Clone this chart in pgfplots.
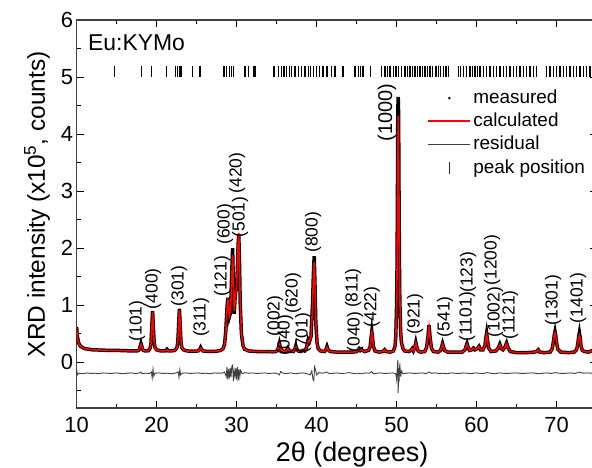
\documentclass[border=0pt]{standalone}
\usepackage{pgfplots}
\pgfplotsset{compat=1.18}
\usepackage{pgfplotstable}
\usepackage{fontspec}
\setmainfont{Liberation Sans}
\tikzset{lab/.style={rotate=90, font=\fontsize{17.5}{20}\selectfont, inner sep=0pt}}
\pgfplotsset{
  measleg/.style={legend image code/.code={\path[draw=none,fill=none] (0bp,0bp) -- (42bp,0bp); \fill[black, draw=none] (21bp,0bp) circle (1.4bp);}},
  calcleg/.style={legend image code/.code={\fill[red, draw=none] (0bp,-0.9bp) rectangle (42bp,0.9bp);}},
  resleg/.style={legend image code/.code={\fill[black!75, draw=none] (0bp,-0.6bp) rectangle (42bp,0.6bp);}},
  peakleg/.style={legend image code/.code={\path[draw=none,fill=none] (0bp,0bp) -- (42bp,0bp); \fill[black!80, draw=none] (20.5bp,-6bp) rectangle (21.5bp,6bp);}},
}

\pgfplotstableread{
x obs calc
10.0 0.62 0.60
10.1 0.45 0.44
10.25 0.34 0.33
10.5 0.28 0.28
11.0 0.24 0.24
12.0 0.22 0.22
13.0 0.215 0.215
14.0 0.21 0.21
15.0 0.21 0.21
16.0 0.205 0.205
17.0 0.20 0.20
17.6 0.20 0.20
17.75 0.21 0.21
17.85 0.23 0.23
17.95 0.28 0.28
18.05 0.33 0.32
18.15 0.28 0.28
18.25 0.23 0.23
18.35 0.21 0.21
18.6 0.20 0.20
19.0 0.205 0.205
19.2 0.25 0.25
19.3 0.34 0.33
19.4 0.62 0.60
19.5 0.90 0.88
19.6 0.60 0.61
19.7 0.34 0.34
19.8 0.26 0.25
20.0 0.22 0.22
20.5 0.20 0.20
21.1 0.20 0.20
21.3 0.23 0.22
21.5 0.20 0.20
22.2 0.205 0.205
22.35 0.22 0.22
22.55 0.26 0.26
22.65 0.35 0.34
22.75 0.64 0.62
22.85 0.94 0.92
22.95 0.65 0.66
23.05 0.36 0.37
23.15 0.26 0.26
23.35 0.22 0.22
23.8 0.20 0.20
24.5 0.195 0.195
25.2 0.20 0.20
25.4 0.23 0.23
25.5 0.26 0.25
25.6 0.23 0.23
25.8 0.20 0.20
26.5 0.19 0.19
27.5 0.195 0.195
28.0 0.21 0.21
28.3 0.24 0.24
28.5 0.32 0.31
28.65 0.55 0.52
28.8 0.95 0.92
28.9 1.13 1.12
29.0 0.95 0.98
29.1 0.80 0.82
29.2 0.85 0.88
29.3 1.15 1.10
29.4 1.60 1.50
29.5 2.00 1.88
29.6 1.35 1.45
29.7 0.85 0.90
29.8 1.10 1.05
29.9 1.25 1.22
30.0 1.30 1.35
30.1 1.65 1.70
30.2 2.10 2.15
30.27 2.24 2.27
30.35 1.85 1.80
30.45 1.05 1.10
30.6 0.50 0.52
30.8 0.30 0.30
31.0 0.23 0.23
31.5 0.20 0.20
32.5 0.19 0.19
33.5 0.19 0.19
34.5 0.185 0.185
34.9 0.19 0.19
35.1 0.21 0.21
35.25 0.27 0.27
35.35 0.33 0.32
35.45 0.27 0.27
35.6 0.21 0.21
35.9 0.19 0.19
36.2 0.20 0.20
36.4 0.25 0.24
36.6 0.20 0.20
37.1 0.19 0.19
37.3 0.24 0.24
37.4 0.29 0.28
37.5 0.24 0.24
37.7 0.20 0.20
38.0 0.19 0.19
38.3 0.21 0.21
38.5 0.20 0.20
38.75 0.26 0.26
38.95 0.40 0.38
39.1 0.36 0.36
39.3 0.45 0.45
39.5 1.05 1.00
39.6 1.55 1.50
39.7 1.86 1.76
39.8 1.35 1.40
39.9 0.70 0.72
40.05 0.35 0.35
40.2 0.24 0.24
40.5 0.20 0.20
41.0 0.19 0.19
41.15 0.22 0.22
41.3 0.28 0.27
41.45 0.22 0.22
41.7 0.19 0.19
42.5 0.18 0.18
43.5 0.18 0.18
44.5 0.18 0.18
45.0 0.19 0.19
45.2 0.22 0.22
45.3 0.24 0.24
45.45 0.21 0.21
45.6 0.23 0.23
45.75 0.21 0.21
46.0 0.19 0.19
46.5 0.21 0.21
46.7 0.28 0.28
46.8 0.42 0.42
46.9 0.54 0.52
47.0 0.42 0.42
47.1 0.28 0.28
47.3 0.20 0.20
47.8 0.18 0.18
48.3 0.19 0.19
48.5 0.22 0.22
48.65 0.19 0.19
49.2 0.18 0.18
49.6 0.20 0.20
49.8 0.28 0.28
49.9 0.45 0.42
50.0 1.00 0.95
50.05 1.60 1.50
50.1 2.70 2.50
50.15 4.40 3.60
50.2 4.65 4.32
50.25 4.35 3.80
50.3 3.00 2.80
50.35 1.80 1.80
50.4 1.10 1.15
50.5 0.55 0.58
50.6 0.35 0.36
50.8 0.24 0.24
51.0 0.20 0.20
51.5 0.19 0.19
51.8 0.21 0.21
51.95 0.24 0.24
52.1 0.20 0.20
52.25 0.25 0.25
52.4 0.35 0.34
52.55 0.25 0.25
52.7 0.20 0.20
53.0 0.18 0.18
53.5 0.19 0.19
53.75 0.26 0.26
53.9 0.42 0.42
54.05 0.65 0.62
54.2 0.42 0.42
54.35 0.25 0.25
54.6 0.19 0.19
55.2 0.18 0.18
55.5 0.21 0.21
55.65 0.28 0.28
55.75 0.33 0.32
55.85 0.28 0.28
56.0 0.21 0.21
56.4 0.18 0.18
57.5 0.18 0.18
58.2 0.18 0.18
58.55 0.22 0.22
58.7 0.29 0.29
58.8 0.33 0.32
58.9 0.28 0.28
59.1 0.21 0.21
59.4 0.22 0.22
59.6 0.25 0.25
59.8 0.22 0.22
60.1 0.24 0.24
60.3 0.28 0.28
60.5 0.22 0.22
60.8 0.22 0.22
61.05 0.30 0.30
61.15 0.42 0.42
61.25 0.51 0.49
61.35 0.40 0.40
61.5 0.25 0.25
61.8 0.19 0.19
62.4 0.20 0.20
62.7 0.25 0.25
62.9 0.32 0.31
63.1 0.24 0.24
63.3 0.22 0.22
63.55 0.27 0.27
63.75 0.34 0.33
63.95 0.25 0.25
64.2 0.19 0.19
65.0 0.17 0.17
66.0 0.17 0.17
67.0 0.175 0.175
67.5 0.19 0.19
67.7 0.22 0.22
67.9 0.18 0.18
68.5 0.17 0.17
69.2 0.18 0.18
69.45 0.24 0.24
69.6 0.36 0.36
69.7 0.47 0.47
69.8 0.54 0.52
69.9 0.46 0.46
70.0 0.34 0.34
70.15 0.23 0.23
70.5 0.18 0.18
71.5 0.17 0.17
72.2 0.18 0.18
72.5 0.22 0.22
72.65 0.32 0.32
72.75 0.44 0.43
72.85 0.52 0.47
72.95 0.43 0.42
73.05 0.30 0.30
73.2 0.21 0.21
73.5 0.19 0.19
74.0 0.18 0.18
74.5 0.21 0.21
75.0 0.24 0.24
}\xrd

\pgfplotstableread{
x r
10.0 -0.12
10.1 -0.22
10.3 -0.19
10.8 -0.20
11.3 -0.185
11.8 -0.195
12.3 -0.19
12.8 -0.20
13.3 -0.185
13.8 -0.19
14.3 -0.195
14.8 -0.185
15.3 -0.19
15.8 -0.20
16.3 -0.19
16.8 -0.185
17.3 -0.195
17.8 -0.19
18.05 -0.17
18.2 -0.20
18.6 -0.19
19.1 -0.195
19.35 -0.17
19.45 -0.27
19.55 -0.12
19.65 -0.24
19.8 -0.19
20.3 -0.185
20.8 -0.195
21.3 -0.19
21.8 -0.20
22.3 -0.19
22.7 -0.17
22.8 -0.26
22.9 -0.13
23.0 -0.22
23.2 -0.19
23.7 -0.185
24.2 -0.195
24.7 -0.19
25.2 -0.185
25.7 -0.195
26.2 -0.19
26.7 -0.20
27.2 -0.185
27.7 -0.19
28.2 -0.19
28.5 -0.17
28.7 -0.25
28.8 -0.08
28.9 -0.30
29.0 -0.12
29.1 -0.28
29.2 -0.10
29.3 -0.26
29.4 -0.07
29.5 -0.05
29.6 -0.33
29.7 -0.15
29.8 -0.24
29.9 -0.10
30.0 -0.30
30.1 -0.08
30.2 -0.32
30.3 -0.12
30.4 -0.25
30.5 -0.14
30.7 -0.20
31.0 -0.18
31.5 -0.19
32.0 -0.185
32.5 -0.195
33.0 -0.19
33.5 -0.185
34.0 -0.195
34.5 -0.19
35.0 -0.19
35.35 -0.22
35.5 -0.16
35.8 -0.19
36.3 -0.195
36.8 -0.185
37.4 -0.20
37.8 -0.19
38.3 -0.185
38.8 -0.20
39.2 -0.22
39.4 -0.15
39.55 -0.30
39.65 -0.32
39.75 -0.08
39.85 -0.12
40.0 -0.22
40.3 -0.18
40.8 -0.19
41.3 -0.17
41.6 -0.20
42.1 -0.19
42.6 -0.185
43.1 -0.195
43.6 -0.19
44.1 -0.18
44.6 -0.195
45.1 -0.19
45.6 -0.20
46.1 -0.185
46.6 -0.19
46.9 -0.16
47.1 -0.20
47.5 -0.19
48.0 -0.185
48.5 -0.195
49.0 -0.19
49.5 -0.185
49.9 -0.20
50.0 -0.30
50.1 -0.08
50.15 0.04
50.2 -0.54
50.25 -0.10
50.3 -0.35
50.4 -0.02
50.5 -0.25
50.6 -0.15
50.8 -0.20
51.2 -0.19
51.7 -0.185
52.2 -0.195
52.7 -0.19
53.2 -0.185
53.7 -0.20
54.05 -0.17
54.3 -0.19
54.8 -0.185
55.3 -0.195
55.8 -0.19
56.3 -0.20
56.8 -0.185
57.3 -0.19
57.8 -0.195
58.3 -0.185
58.8 -0.19
59.3 -0.20
59.8 -0.185
60.3 -0.19
60.8 -0.195
61.3 -0.18
61.8 -0.19
62.3 -0.20
62.8 -0.185
63.3 -0.19
63.8 -0.195
64.3 -0.19
64.8 -0.185
65.3 -0.19
65.8 -0.195
66.3 -0.19
66.8 -0.185
67.3 -0.19
67.8 -0.20
68.3 -0.19
68.8 -0.185
69.3 -0.195
69.8 -0.18
70.3 -0.19
70.8 -0.195
71.3 -0.19
71.8 -0.185
72.3 -0.195
72.85 -0.17
73.3 -0.19
73.8 -0.185
74.3 -0.19
75.0 -0.195
}\resid

\pgfplotstableread{
x y
14.71 5.1
18.14 5.1
19.39 5.1
21.26 5.1
22.39 5.1
22.64 5.1
22.93 5.1
23.14 5.1
24.46 5.1
25.43 5.1
28.43 5.1
28.76 5.1
29.09 5.1
29.39 5.1
29.59 5.1
31.05 5.1
31.46 5.1
32.09 5.1
32.30 5.1
34.68 5.1
35.21 5.1
35.64 5.1
35.93 5.1
36.26 5.1
36.59 5.1
36.90 5.1
37.30 5.1
37.71 5.1
38.10 5.1
38.55 5.1
38.97 5.1
39.26 5.1
39.60 5.1
40.00 5.1
40.40 5.1
40.80 5.1
41.30 5.1
41.90 5.1
42.30 5.1
43.30 5.1
44.80 5.1
45.20 5.1
45.50 5.1
45.80 5.1
46.70 5.1
48.14 5.1
48.55 5.1
48.84 5.1
49.18 5.1
49.59 5.1
49.93 5.1
50.21 5.1
50.64 5.1
51.05 5.1
51.34 5.1
51.68 5.1
52.01 5.1
52.30 5.1
52.59 5.1
52.93 5.1
53.26 5.1
53.55 5.1
53.84 5.1
54.18 5.1
54.51 5.1
54.93 5.1
55.21 5.1
55.51 5.1
55.84 5.1
56.18 5.1
56.46 5.1
57.71 5.1
58.01 5.1
58.34 5.1
58.76 5.1
59.18 5.1
59.51 5.1
59.80 5.1
60.09 5.1
60.43 5.1
60.84 5.1
61.26 5.1
61.68 5.1
62.09 5.1
62.51 5.1
62.93 5.1
63.34 5.1
63.76 5.1
64.18 5.1
64.59 5.1
65.01 5.1
65.43 5.1
65.84 5.1
66.26 5.1
66.68 5.1
67.09 5.1
67.51 5.1
68.76 5.1
69.18 5.1
69.59 5.1
70.01 5.1
70.43 5.1
70.84 5.1
71.26 5.1
71.68 5.1
72.09 5.1
72.51 5.1
72.93 5.1
73.34 5.1
73.76 5.1
74.18 5.1
}\peaks

\begin{document}
\begin{tikzpicture}
\useasboundingbox (-76.6bp,-60bp) rectangle (515.4bp,408bp);
\begin{axis}[
  at={(0bp,0bp)}, anchor=south west,
  scale only axis, width=520bp, height=388bp,
  xmin=10, xmax=75, ymin=-0.8, ymax=6,
  xtick={10,20,...,70}, minor xtick={15,25,...,75},
  ytick={0,1,...,6}, minor ytick={-0.5,0.5,1.5,2.5,3.5,4.5,5.5},
  tick align=inside,
  major tick length=7bp, minor tick length=4bp,
  every tick/.append style={black, line width=0.9bp},
  axis line style={line width=1.2bp, black!75},
  /pgf/number format/assume math mode=true,
  tick label style={font=\fontsize{22}{26}\selectfont},
  xticklabel style={yshift=-6bp},
  xlabel={2θ (degrees)},
  xlabel style={at={(axis description cs:0.53,-0.137)}, anchor=base, font=\fontsize{27}{30}\selectfont},
  ylabel={XRD intensity (x10\textsuperscript{5}, counts)},
  ylabel style={at={(axis description cs:-0.0608,0.525)}, anchor=base, font=\fontsize{24.5}{30}\selectfont},
  legend cell align=left,
  legend style={draw=none, fill=none, at={(axis description cs:0.676,0.825)}, anchor=north west,
    inner sep=0pt, row sep=3.3bp, column sep=2bp, font=\fontsize{19}{22}\selectfont,
    nodes={text height=14bp, text depth=4bp, inner sep=1bp}},
]
\addplot[black, line width=3.5bp, forget plot] table[x=x, y=obs] {\xrd};
\addplot[red, line width=1.6bp, forget plot] table[x=x, y=calc] {\xrd};
\addplot[black!75, line width=0.9bp, forget plot] table[x=x, y=r] {\resid};
\addplot[only marks, mark=|, mark size=5.5bp, mark options={black, line width=1.1bp}, forget plot]
  table[x=x, y=y] {\peaks};

\addlegendimage{measleg}
\addlegendentry{measured}
\addlegendimage{calcleg}
\addlegendentry{calculated}
\addlegendimage{resleg}
\addlegendentry{residual}
\addlegendimage{peakleg}
\addlegendentry{peak position}

\node[anchor=base west, font=\fontsize{23}{26}\selectfont] at (axis cs:11.0,5.47) {Eu:KYMo};

\node[lab] at (axis cs:17.55,0.725) {(101)};
\node[lab] at (axis cs:19.55,1.29) {(400)};
\node[lab] at (axis cs:22.8,1.34) {(301)};
\node[lab] at (axis cs:25.55,0.79) {(311)};
\node[lab] at (axis cs:28.18,1.51) {(121)};
\node[lab] at (axis cs:28.55,2.42) {(600)};
\node[lab] at (axis cs:30.43,2.55) {(501)};
\node[lab] at (axis cs:30.05,3.32) {(420)};
\node[lab] at (axis cs:34.8,0.81) {(002)};
\node[lab] at (axis cs:36.05,0.48) {(040)};
\node[lab] at (axis cs:38.3,0.51) {(701)};
\node[lab] at (axis cs:37.05,1.21) {(620)};
\node[lab] at (axis cs:39.55,2.28) {(800)};
\node[lab] at (axis cs:44.8,0.53) {(040)};
\node[lab] at (axis cs:44.55,1.30) {(811)};
\node[lab] at (axis cs:46.9,0.97) {(422)};
\node[lab, font=\fontsize{20}{22}\selectfont] at (axis cs:48.8,4.38) {(1000)};
\node[lab] at (axis cs:52.3,0.85) {(921)};
\node[lab] at (axis cs:56.05,0.80) {(541)};
\node[lab] at (axis cs:58.8,0.80) {(1101)};
\node[lab] at (axis cs:58.93,1.58) {(123)};
\node[lab] at (axis cs:61.93,1.79) {(1200)};
\node[lab] at (axis cs:62.3,0.88) {(1002)};
\node[lab] at (axis cs:64.18,0.83) {(1121)};
\node[lab] at (axis cs:69.55,1.09) {(1301)};
\node[lab] at (axis cs:72.68,1.13) {(1401)};
\end{axis}
\end{tikzpicture}
\end{document}
